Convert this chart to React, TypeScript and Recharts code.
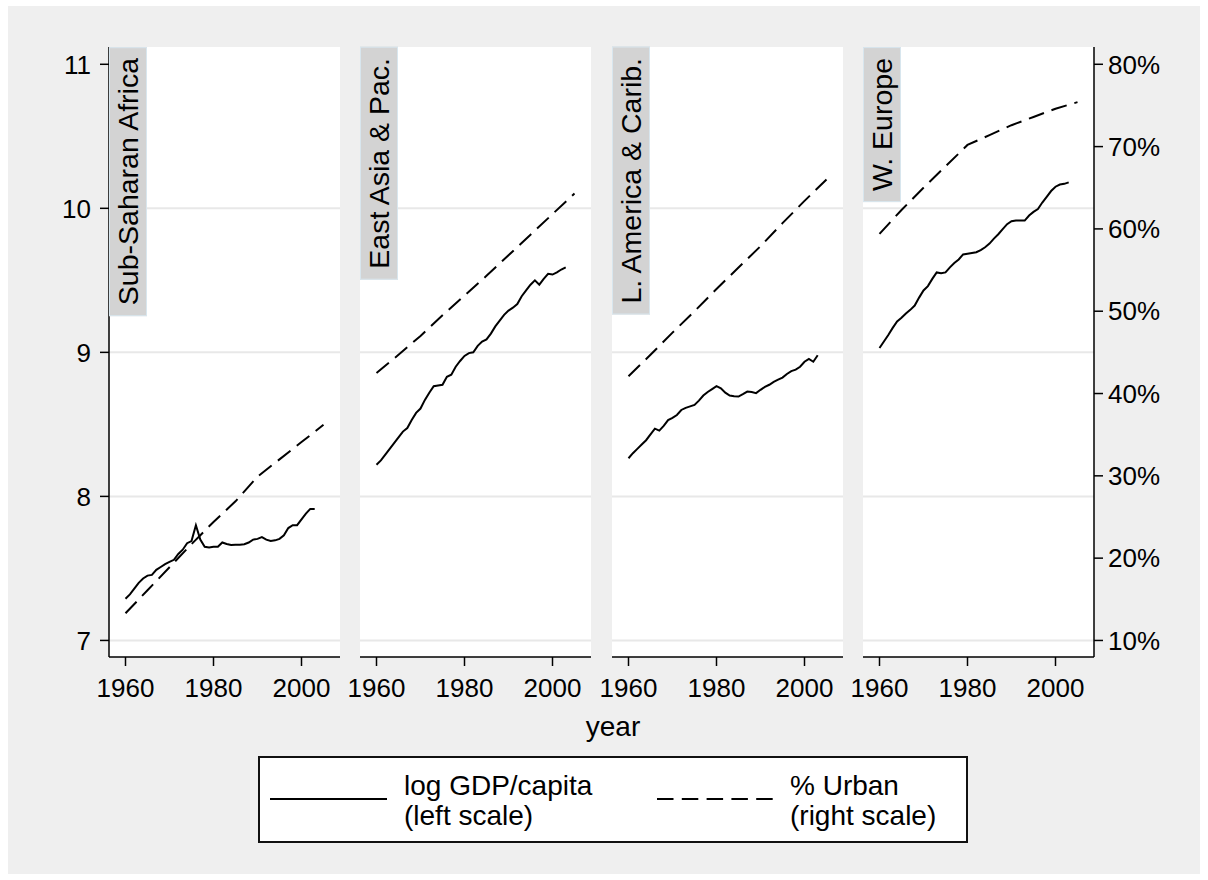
import React from "react";
import { LineChart, Line, XAxis, YAxis, CartesianGrid, ReferenceLine } from "recharts";

const FONT = '"Liberation Sans", Arial, Helvetica, sans-serif';

// panels
const regions = ["Sub-Saharan Africa", "East Asia & Pac.", "L. America & Carib.", "W. Europe"];

const gdpYears = Array.from({ length: 44 }, (_, i) => 1960 + i); // 1960..2003
const urbanYears = [1960, 1965, 1970, 1975, 1980, 1985, 1990, 1995, 2000, 2005];

// log GDP per capita (left scale)
const ssaGdp = [
  7.29, 7.32, 7.36, 7.4, 7.43, 7.45, 7.455, 7.49, 7.51, 7.53,
  7.545, 7.56, 7.6, 7.63, 7.675, 7.69, 7.8, 7.7, 7.65, 7.645,
  7.65, 7.65, 7.68, 7.67, 7.663, 7.665, 7.665, 7.668, 7.68, 7.7,
  7.705, 7.717, 7.7, 7.69, 7.695, 7.705, 7.73, 7.78, 7.8, 7.8,
  7.84, 7.88, 7.913, 7.913,
];
const eapGdp = [
  8.22, 8.25, 8.29, 8.33, 8.37, 8.41, 8.45, 8.475, 8.53, 8.58,
  8.61, 8.67, 8.72, 8.765, 8.77, 8.775, 8.83, 8.845, 8.9, 8.94,
  8.975, 8.995, 9.0, 9.045, 9.075, 9.09, 9.13, 9.18, 9.22, 9.26,
  9.29, 9.31, 9.335, 9.39, 9.43, 9.47, 9.5, 9.47, 9.51, 9.545,
  9.54, 9.555, 9.575, 9.59,
];
const latGdp = [
  8.265, 8.3, 8.33, 8.36, 8.39, 8.43, 8.47, 8.457, 8.49, 8.53,
  8.545, 8.565, 8.6, 8.615, 8.625, 8.635, 8.665, 8.7, 8.725, 8.745,
  8.765, 8.75, 8.72, 8.7, 8.695, 8.693, 8.71, 8.728, 8.725, 8.717,
  8.74, 8.76, 8.775, 8.795, 8.81, 8.825, 8.85, 8.87, 8.88, 8.9,
  8.935, 8.955, 8.935, 8.98,
];
const weuGdp = [
  9.03, 9.075, 9.12, 9.17, 9.215, 9.24, 9.27, 9.295, 9.325, 9.38,
  9.43, 9.46, 9.51, 9.555, 9.55, 9.555, 9.59, 9.62, 9.645, 9.68,
  9.685, 9.69, 9.695, 9.71, 9.73, 9.755, 9.79, 9.82, 9.855, 9.89,
  9.91, 9.915, 9.915, 9.915, 9.95, 9.975, 9.995, 10.04, 10.08, 10.12,
  10.15, 10.165, 10.17, 10.18,
];

// % urban (right scale)
const ssaUrban = [13.3, 16.1, 18.9, 21.7, 24.4, 26.9, 29.9, 32.0, 34.1, 36.2];
const eapUrban = [42.5, 44.7, 47.0, 49.5, 51.9, 54.3, 56.8, 59.3, 61.8, 64.3];
const latUrban = [42.1, 44.7, 47.4, 50.0, 52.7, 55.3, 57.9, 60.7, 63.4, 66.0];
const weuUrban = [59.4, 62.3, 65.0, 67.6, 70.2, 71.4, 72.6, 73.6, 74.6, 75.4];

const gdpSeries = [ssaGdp, eapGdp, latGdp, weuGdp];
const urbanSeries = [ssaUrban, eapUrban, latUrban, weuUrban];

const yearTicks = [1960, 1980, 2000];
const leftTicks = [7, 8, 9, 10, 11];
const rightTicks = [10, 20, 30, 40, 50, 60, 70, 80];
const gridValues = [7, 8, 9, 10];

// layout
const PANEL_LEFT = [109, 360, 612, 863];
const PLOT_W = 231;
const PLOT_TOP = 47;
const PLOT_H = 610;
const X_H = 60;
const LEFT_W = 70;
const RIGHT_W = 80;
const PAD = 22; // room for tick labels hanging past the plot edge

function buildRows(gdp: number[], urban: number[]) {
  const rows: any[] = [];
  for (let y = 1960; y <= 2005; y++) {
    const gi = gdpYears.indexOf(y);
    const ui = urbanYears.indexOf(y);
    rows.push({
      year: y,
      gdp: gi >= 0 ? gdp[gi] : null,
      urban: ui >= 0 ? urban[ui] : null,
    });
  }
  return rows;
}

const tickStyle = { fill: "#000", fontSize: 26, fontFamily: FONT };
const axisStroke = { stroke: "#000", strokeWidth: 1.5 };

function Panel({ idx }: { idx: number }) {
  const showLeft = idx === 0;
  const showRight = idx === 3;
  const lw = showLeft ? LEFT_W : 0;
  const rw = showRight ? RIGHT_W : 0;
  const ml = showLeft ? 0 : PAD;
  const mr = showRight ? 0 : PAD;
  const width = PLOT_W + lw + rw + ml + mr;
  const height = PLOT_H + X_H;
  const data = buildRows(gdpSeries[idx], urbanSeries[idx]);

  return (
    <div style={{ position: "absolute", left: PANEL_LEFT[idx] - lw - ml, top: PLOT_TOP, width, height }}>
      <LineChart width={width} height={height} data={data} margin={{ top: 0, right: mr, bottom: 0, left: ml }}>
        <CartesianGrid fill="#fff" stroke="none" horizontal={false} vertical={false} yAxisId="left" />
        <XAxis
          dataKey="year"
          type="number"
          domain={[1956.25, 2008.75]}
          allowDataOverflow
          ticks={yearTicks}
          interval={0}
          height={X_H}
          tickSize={9}
          tickMargin={13}
          tick={tickStyle}
          axisLine={axisStroke}
          tickLine={axisStroke}
        />
        <YAxis
          yAxisId="left"
          orientation="left"
          type="number"
          domain={[6.885, 11.12]}
          allowDataOverflow
          ticks={leftTicks}
          interval={0}
          hide={!showLeft}
          width={LEFT_W}
          tickSize={9}
          tickMargin={9}
          tick={tickStyle}
          axisLine={axisStroke}
          tickLine={axisStroke}
        />
        <YAxis
          yAxisId="right"
          orientation="right"
          type="number"
          domain={[7.99, 82.1]}
          allowDataOverflow
          ticks={rightTicks}
          interval={0}
          tickFormatter={(v: number) => `${v}%`}
          hide={!showRight}
          width={RIGHT_W}
          tickSize={9}
          tickMargin={5}
          tick={tickStyle}
          axisLine={axisStroke}
          tickLine={axisStroke}
        />
        {gridValues.map((v) => (
          <ReferenceLine key={v} yAxisId="left" y={v} stroke="#e8e8e8" strokeWidth={2} />
        ))}
        <Line
          yAxisId="left"
          dataKey="gdp"
          type="linear"
          stroke="#000"
          strokeWidth={2}
          dot={false}
          activeDot={false}
          isAnimationActive={false}
        />
        <Line
          yAxisId="right"
          dataKey="urban"
          type="linear"
          stroke="#000"
          strokeWidth={2}
          strokeDasharray="16 8"
          connectNulls
          dot={false}
          activeDot={false}
          isAnimationActive={false}
        />
      </LineChart>
      <div
        style={{
          position: "absolute",
          left: lw + ml,
          top: 0,
          writingMode: "vertical-rl",
          transform: "rotate(180deg)",
          background: "#d3d3d3",
          border: "1px solid #d8e6ee",
          fontFamily: FONT,
          fontSize: 28.5,
          lineHeight: "36px",
          padding: "10px 0",
          color: "#000",
          whiteSpace: "nowrap",
        }}
      >
        {regions[idx]}
      </div>
    </div>
  );
}

const legendText = {
  position: "absolute" as const,
  fontFamily: FONT,
  fontSize: 28,
  lineHeight: "30px",
  color: "#000",
  whiteSpace: "nowrap" as const,
};

export default function App() {
  return (
    <div style={{ position: "absolute", left: 0, top: 0, width: 1208, height: 880, background: "#fff", overflow: "hidden" }}>
      <div style={{ position: "absolute", left: 8, top: 6, width: 1192, height: 868, background: "#efefef" }} />
      {regions.map((_, i) => (
        <Panel key={i} idx={i} />
      ))}
      <div
        style={{
          position: "absolute",
          left: 513,
          top: 713,
          width: 200,
          textAlign: "center",
          fontFamily: FONT,
          fontSize: 28,
          lineHeight: "28px",
          color: "#000",
        }}
      >
        year
      </div>
      <div
        style={{
          position: "absolute",
          left: 258,
          top: 756,
          width: 710,
          height: 87,
          boxSizing: "border-box",
          border: "2px solid #111",
          background: "#fff",
        }}
      />
      <svg style={{ position: "absolute", left: 0, top: 0 }} width={1208} height={880} pointerEvents="none">
        <line x1={270} y1={799} x2={387} y2={799} stroke="#000" strokeWidth={2} />
        <line x1={657} y1={799} x2={773} y2={799} stroke="#000" strokeWidth={2} strokeDasharray="16.5 8.3" />
      </svg>
      <div style={{ ...legendText, left: 404, top: 771 }}>log GDP/capita</div>
      <div style={{ ...legendText, left: 404, top: 801 }}>(left scale)</div>
      <div style={{ ...legendText, left: 790, top: 771 }}>% Urban</div>
      <div style={{ ...legendText, left: 790, top: 801 }}>(right scale)</div>
    </div>
  );
}
